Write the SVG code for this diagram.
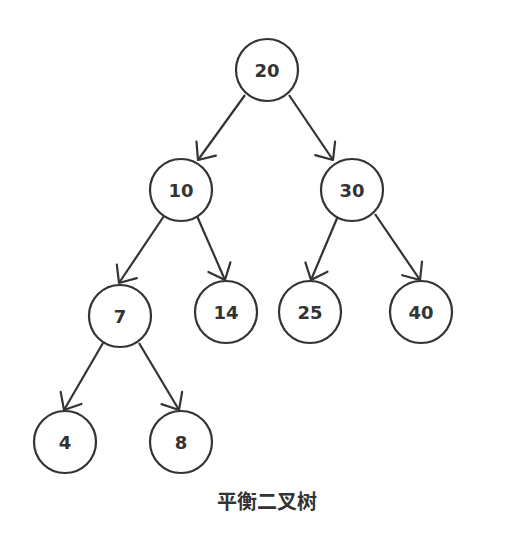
<svg xmlns="http://www.w3.org/2000/svg" width="523" height="536" viewBox="0 0 523 536">
<style>
.node circle{fill:#fff;stroke:#333;stroke-width:2.2}
.node text{font-family:"DejaVu Sans",sans-serif;font-weight:bold;font-size:18px;fill:#333;text-anchor:middle}
.edge{stroke:#333;stroke-width:2.2;fill:none;marker-end:url(#arr)}
.title{font-family:"Noto Sans CJK SC",sans-serif;font-weight:bold;font-size:20px;fill:#333;text-anchor:middle}
</style>
<defs>
<marker id="arr" markerUnits="userSpaceOnUse" markerWidth="30" markerHeight="30" viewBox="-20 -15 25 30" refX="0" refY="0" orient="auto">
<path d="M-14,-12 L0,0 L-14,12" fill="none" stroke="#333" stroke-width="2.2" stroke-linecap="round" stroke-linejoin="round"/>
</marker>
</defs>
<rect width="523" height="536" fill="#fff"/>
<g id="connectors">
<line class="edge" x1="245" y1="95" x2="198" y2="160"/>
<line class="edge" x1="289" y1="95" x2="333" y2="160"/>
<line class="edge" x1="164" y1="216" x2="119" y2="283"/>
<line class="edge" x1="197" y1="216" x2="225" y2="280"/>
<line class="edge" x1="338" y1="216" x2="311" y2="280"/>
<line class="edge" x1="375" y1="214" x2="420" y2="280"/>
<line class="edge" x1="103" y1="343" x2="64" y2="410"/>
<line class="edge" x1="139" y1="343" x2="179" y2="410"/>
</g>
<g id="n20" class="node"><circle cx="267" cy="70" r="31"/><text x="267" y="77">20</text></g>
<g id="n10" class="node"><circle cx="181" cy="190" r="31"/><text x="181" y="197">10</text></g>
<g id="n30" class="node"><circle cx="352" cy="190" r="31"/><text x="352" y="197">30</text></g>
<g id="n7" class="node"><circle cx="120" cy="316" r="31"/><text x="120" y="323">7</text></g>
<g id="n14" class="node"><circle cx="226" cy="312" r="31"/><text x="226" y="319">14</text></g>
<g id="n25" class="node"><circle cx="310" cy="312" r="31"/><text x="310" y="319">25</text></g>
<g id="n40" class="node"><circle cx="421" cy="312" r="31"/><text x="421" y="319">40</text></g>
<g id="n4" class="node"><circle cx="65" cy="442" r="31"/><text x="65" y="449">4</text></g>
<g id="n8" class="node"><circle cx="181" cy="442" r="31"/><text x="181" y="449">8</text></g>
<text class="title" x="267" y="509">平衡二叉树</text>
</svg>
